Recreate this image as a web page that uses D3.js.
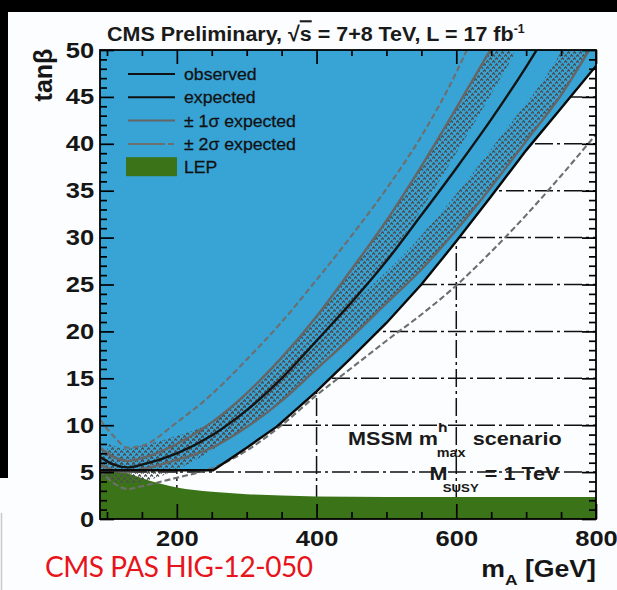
<!DOCTYPE html>
<html>
<head>
<meta charset="utf-8">
<script src="https://cdn.jsdelivr.net/npm/d3@7"></script>
<style>
  html, body { margin: 0; padding: 0; background: #000; }
  svg { display: block; }
</style>
</head>
<body>
<svg id="chart" width="617" height="590"></svg>
<script>
// MSSM m_h^max exclusion in the (m_A, tan beta) plane, CMS 7+8 TeV, 17 fb^-1

// axis ticks
const massMajorTicks = [200, 400, 600, 800];
const massMinorTicks = [100, 150, 250, 300, 350, 450, 500, 550, 650, 700, 750];
const tanbMajorTicks = [0, 5, 10, 15, 20, 25, 30, 35, 40, 45, 50];
const tanbMinorTicks = d3.range(1, 50).filter(v => v % 5 !== 0);
const gridMass = [200, 400, 600];
const gridTanb = [5, 10, 15, 20, 25, 30, 35, 40, 45];

// limits as [m_A (GeV), tan beta]
const observed = [
  [90, 5.2], [150, 5.2], [200, 5.2], [252, 5.2], [300, 7.6], [343, 9.85],
  [400, 13.6], [450, 17.2], [500, 20.9], [550, 25.0], [600, 29.6],
  [650, 34.4], [700, 39.3], [750, 43.8], [800, 48.3]
];
const expected = [
  [90, 6.6], [110, 5.8], [130, 5.5], [150, 5.8], [200, 7.0], [250, 8.9],
  [300, 11.6], [350, 15.0], [400, 19.0], [450, 23.1], [500, 27.5],
  [550, 32.4], [600, 37.4], [650, 42.6], [700, 48.2], [720, 50.6]
];
const plusOneSigma = [
  [90, 7.6], [110, 6.6], [130, 6.2], [150, 6.5], [200, 8.0], [250, 10.3],
  [300, 13.4], [350, 17.2], [400, 21.6], [450, 26.6], [500, 31.8],
  [550, 37.6], [600, 43.8], [655, 50.8]
];
const minusOneSigma = [
  [90, 5.8], [110, 5.2], [130, 5.0], [150, 5.3], [200, 6.3], [250, 7.6],
  [300, 9.8], [350, 12.6], [400, 16.0], [450, 19.4], [500, 23.0],
  [550, 26.6], [600, 30.8], [650, 35.4], [700, 40.3], [750, 45.2], [795, 50.6]
];
const plusTwoSigma = [
  [90, 10.6], [110, 8.8], [130, 7.6], [150, 7.8], [200, 10.3], [250, 13.3],
  [300, 17.0], [350, 21.0], [400, 25.5], [450, 30.2], [500, 35.2],
  [550, 40.8], [600, 47.6], [620, 50.8]
];
const minusTwoSigma = [
  [90, 5.2], [110, 3.8], [130, 3.2], [150, 3.5], [200, 4.4], [250, 5.4],
  [300, 7.3], [350, 10.0], [400, 13.2], [450, 16.1], [500, 19.0],
  [550, 21.8], [600, 24.9], [650, 28.5], [700, 32.4], [750, 36.6], [800, 41.0]
];
const lepExcluded = [
  [90, 5.0], [120, 5.0], [140, 4.6], [160, 4.1], [180, 3.7], [200, 3.35],
  [250, 2.9], [300, 2.65], [350, 2.5], [400, 2.4], [500, 2.35], [800, 2.35]
];

const legendItems = [
  { label: "observed", kind: "obs" },
  { label: "expected", kind: "exp" },
  { label: "\u00b1 1\u03c3 expected", kind: "one" },
  { label: "\u00b1 2\u03c3 expected", kind: "two" },
  { label: "LEP", kind: "lep" }
];

const BLUE = "#38a3d5";
const GREEN = "#3b7418";
const GRAY1 = "#656565";
const GRAY2 = "#6e6e6e";
const BG = "#fbfdfe";
const INK = "#161616";
const SX = 1.16;   // horizontal stretch of the plot lettering

const svg = d3.select("#chart");
const plot = { left: 100, right: 596, top: 50, bottom: 519 };
const x = d3.scaleLinear().domain([90, 800]).range([plot.left, plot.right]);
const y = d3.scaleLinear().domain([0, 50]).range([plot.bottom, plot.top]);

// page background pieces
svg.append("rect").attr("x", 8).attr("y", 12).attr("width", 609).attr("height", 578).attr("fill", BG);
svg.append("rect").attr("x", 0).attr("y", 478).attr("width", 617).attr("height", 112).attr("fill", BG);
svg.append("line").attr("x1", 1.5).attr("x2", 1.5).attr("y1", 513).attr("y2", 590)
  .attr("stroke", "#c9c9c9").attr("stroke-width", 1.5);

const defs = svg.append("defs");
defs.append("clipPath").attr("id", "plotClip").append("rect")
  .attr("x", plot.left).attr("y", plot.top)
  .attr("width", plot.right - plot.left).attr("height", plot.bottom - plot.top);

// zig-zag hatch used for the +-1 sigma band
const hatch = defs.append("pattern").attr("id", "hatch")
  .attr("patternUnits", "userSpaceOnUse").attr("width", 6).attr("height", 6);
hatch.append("path")
  .attr("d", "M0.2,2.6 L1.6,0.9 L3.0,2.6 M3.2,5.6 L4.6,3.9 L6.0,5.6")
  .attr("fill", "none").attr("stroke", "#4c4c4c").attr("stroke-width", 1.4);

const line = d3.line().x(d => x(d[0])).y(d => y(d[1]));
const smooth = d3.line().x(d => x(d[0])).y(d => y(d[1])).curve(d3.curveMonotoneX);

// one-sided clip regions for the hatched sides of the +-1 sigma lines
const far = 200;
function regionBelow(pts) {
  const p = pts.map(d => [x(d[0]), y(d[1])]);
  const first = p[0], last = p[p.length - 1];
  const ring = p.concat([[last[0], -far], [617 + far, -far], [617 + far, 590 + far],
    [-far, 590 + far], [-far, first[1]]]);
  return "M" + ring.map(q => q.join(",")).join("L") + "Z";
}
function regionAbove(pts) {
  const p = pts.map(d => [x(d[0]), y(d[1])]);
  const first = p[0], last = p[p.length - 1];
  const ring = p.concat([[last[0], -far], [-far, -far], [-far, first[1]]]);
  return "M" + ring.map(q => q.join(",")).join("L") + "Z";
}
defs.append("clipPath").attr("id", "belowPlus").append("path").attr("d", regionBelow(plusOneSigma));
defs.append("clipPath").attr("id", "aboveMinus").append("path").attr("d", regionAbove(minusOneSigma));

const g = svg.append("g").attr("clip-path", "url(#plotClip)");

// dash-dot grid
const gridDash = "18,4,3,4";
g.selectAll("line.gh").data(gridTanb).join("line")
  .attr("x1", plot.left).attr("x2", plot.right)
  .attr("y1", d => y(d)).attr("y2", d => y(d))
  .attr("stroke", "#111").attr("stroke-width", 1.5).attr("stroke-dasharray", gridDash);
g.selectAll("line.gv").data(gridMass).join("line")
  .attr("y1", plot.top).attr("y2", plot.bottom)
  .attr("x1", d => x(d)).attr("x2", d => x(d))
  .attr("stroke", "#111").attr("stroke-width", 1.5).attr("stroke-dasharray", gridDash);

// observed excluded region
const obsArea = observed.concat([[800, 50], [90, 50]]);
g.append("path").attr("d", line(obsArea) + "Z").attr("fill", BLUE);

// LEP excluded region
g.append("path")
  .attr("d", smooth(lepExcluded) + "L" + x(800) + "," + y(0) + "L" + x(90) + "," + y(0) + "Z")
  .attr("fill", GREEN);

// hatched sides of the +-1 sigma band
const strip = 23;
g.append("g").attr("clip-path", "url(#belowPlus)").append("path")
  .attr("d", smooth(plusOneSigma)).attr("fill", "none")
  .attr("stroke", "url(#hatch)").attr("stroke-width", 2 * strip);
g.append("g").attr("clip-path", "url(#aboveMinus)").append("path")
  .attr("d", smooth(minusOneSigma)).attr("fill", "none")
  .attr("stroke", "url(#hatch)").attr("stroke-width", 2 * strip);

// +-2 sigma
[plusTwoSigma, minusTwoSigma].forEach(s => {
  g.append("path").attr("d", smooth(s)).attr("fill", "none")
    .attr("stroke", GRAY2).attr("stroke-width", 2.1).attr("stroke-dasharray", "6,3");
});
// +-1 sigma
[plusOneSigma, minusOneSigma].forEach(s => {
  g.append("path").attr("d", smooth(s)).attr("fill", "none")
    .attr("stroke", GRAY1).attr("stroke-width", 2.4);
});
// expected
g.append("path").attr("d", smooth(expected)).attr("fill", "none")
  .attr("stroke", "#141414").attr("stroke-width", 2.4);
// observed
g.append("path").attr("d", line(observed)).attr("fill", "none")
  .attr("stroke", "#0a0a0a").attr("stroke-width", 2.4);

// axes
const tickFont = "bold 22px 'Liberation Sans', Arial, sans-serif";
function styleAxis(sel, labels) {
  sel.select(".domain").remove();
  sel.selectAll(".tick line").attr("stroke", "#000").attr("stroke-width", 1.7);
  if (labels) {
    sel.selectAll(".tick text").style("font", tickFont).attr("fill", INK)
      .attr("transform", `scale(${SX},1)`);
  } else sel.selectAll(".tick text").remove();
}
styleAxis(svg.append("g").attr("transform", `translate(0,${plot.bottom})`)
  .call(d3.axisBottom(x).tickValues(massMajorTicks).tickSize(-15).tickPadding(11).tickFormat(d3.format("d"))), true);
styleAxis(svg.append("g").attr("transform", `translate(0,${plot.bottom})`)
  .call(d3.axisBottom(x).tickValues(massMinorTicks).tickSize(-7)), false);
styleAxis(svg.append("g").attr("transform", `translate(0,${plot.top})`)
  .call(d3.axisTop(x).tickValues(massMajorTicks).tickSize(-14)), false);
styleAxis(svg.append("g").attr("transform", `translate(0,${plot.top})`)
  .call(d3.axisTop(x).tickValues(massMinorTicks).tickSize(-6)), false);
styleAxis(svg.append("g").attr("transform", `translate(${plot.left},0)`)
  .call(d3.axisLeft(y).tickValues(tanbMajorTicks).tickSize(-14).tickPadding(5).tickFormat(d3.format("d"))), true);
styleAxis(svg.append("g").attr("transform", `translate(${plot.left},0)`)
  .call(d3.axisLeft(y).tickValues(tanbMinorTicks).tickSize(-7)), false);
styleAxis(svg.append("g").attr("transform", `translate(${plot.right},0)`)
  .call(d3.axisRight(y).tickValues(tanbMajorTicks).tickSize(-14)), false);
styleAxis(svg.append("g").attr("transform", `translate(${plot.right},0)`)
  .call(d3.axisRight(y).tickValues(tanbMinorTicks).tickSize(-7)), false);

svg.append("rect").attr("x", plot.left).attr("y", plot.top)
  .attr("width", plot.right - plot.left).attr("height", plot.bottom - plot.top)
  .attr("fill", "none").attr("stroke", "#000").attr("stroke-width", 1.8);

// legend
const legend = svg.append("g").attr("transform", "translate(128,74)");
const rowGap = 23.3;
legendItems.forEach((it, i) => {
  const row = legend.append("g").attr("transform", `translate(0,${i * rowGap})`);
  if (it.kind === "lep") {
    row.append("rect").attr("x", -2).attr("y", -10).attr("width", 51).attr("height", 19).attr("fill", GREEN);
  } else {
    const stroke = it.kind === "obs" || it.kind === "exp" ? "#111" : (it.kind === "one" ? GRAY1 : GRAY2);
    row.append("line").attr("x1", 0).attr("x2", 47).attr("y1", 0).attr("y2", 0)
      .attr("stroke", stroke).attr("stroke-width", 2)
      .attr("stroke-dasharray", it.kind === "two" ? "37,3,6,3" : null);
  }
  row.append("text").attr("transform", `translate(56,6) scale(1.04,1)`)
    .style("font", "17px 'Liberation Sans', Arial, sans-serif").attr("fill", "#111")
    .attr("stroke", "#111").attr("stroke-width", 0.25)
    .text(it.label);
});

// title, fitted between the frame start and its right end
const titleG = svg.append("g").attr("transform", "translate(107,41)");
const title = titleG.append("text")
  .style("font", "bold 21px 'Liberation Sans', Arial, sans-serif").attr("fill", "#1a1a1a");
title.append("tspan").text("CMS Preliminary, \u221a");
title.append("tspan").style("text-decoration", "overline").text("s");
title.append("tspan").text(" = 7+8 TeV, L = 17 fb");
title.append("tspan").attr("dy", -8).style("font-size", "12px").text("-1");
const tw = title.node().getBBox().width;
titleG.attr("transform", `translate(107,41) scale(${418 / tw},1)`);

// axis titles
svg.append("text").attr("transform", "translate(52,75) rotate(-90)")
  .attr("text-anchor", "middle")
  .style("font", "bold 25px 'Liberation Sans', Arial, sans-serif").attr("fill", INK)
  .text("tan\u03b2");
const xt = svg.append("text").attr("transform", `translate(596,577) scale(${SX},1)`)
  .attr("text-anchor", "end")
  .style("font", "bold 23px 'Liberation Sans', Arial, sans-serif").attr("fill", INK);
xt.append("tspan").text("m");
xt.append("tspan").attr("dy", 8).style("font-size", "15px").text("A");
xt.append("tspan").attr("dy", -8).text(" [GeV]");

// scenario text
const sc = svg.append("g").attr("transform", `translate(348,445) scale(1.2,1)`)
  .attr("fill", "#1a1a1a");
const bold = px => `bold ${px}px 'Liberation Sans', Arial, sans-serif`;
sc.append("text").attr("x", 0).attr("y", 0).style("font", bold(18)).text("MSSM m");
sc.append("text").attr("x", 75).attr("y", -13).style("font", bold(13)).text("h");
sc.append("text").attr("x", 74).attr("y", 12).style("font", bold(12)).text("max");
sc.append("text").attr("x", 104).attr("y", 0).style("font", bold(18)).text("scenario");
sc.append("text").attr("x", 68).attr("y", 35).style("font", bold(18)).text("M");
sc.append("text").attr("x", 79).attr("y", 47).style("font", bold(11)).text("SUSY");
sc.append("text").attr("x", 114).attr("y", 35).style("font", bold(18)).text("= 1 TeV");

// document reference
svg.append("text").attr("x", 45).attr("y", 577).attr("textLength", 268)
  .style("font", "28px Lato, 'Open Sans', sans-serif").attr("fill", "#e8141b")
  .text("CMS PAS HIG-12-050");

// black page edges
svg.append("rect").attr("x", 0).attr("y", 0).attr("width", 617).attr("height", 12).attr("fill", "#000");
svg.append("rect").attr("x", 0).attr("y", 0).attr("width", 8).attr("height", 478).attr("fill", "#000");
</script>
</body>
</html>
